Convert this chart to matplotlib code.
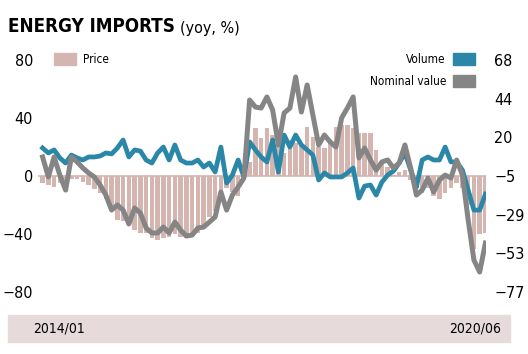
import numpy as np
import pandas as pd
import matplotlib
matplotlib.use("Agg")
import matplotlib.pyplot as plt
from matplotlib import font_manager
from matplotlib.patches import Patch, Rectangle

# monthly data, 2014/01 .. 2020/06 (yoy, %)
months = pd.date_range("2014-01-01", "2020-06-01", freq="MS")

# Price (bars, left axis)
price = [-4.8, -6.5, -7.6, -4.8, -4, -2, -2, -4, -6, -9,
         -12, -16, -23, -30, -31, -30, -37, -39, -39, -43,
         -44, -43, -42, -40, -42, -43, -42, -39, -35, -28,
         -24, -12, -8, -11, -14, 4, 10, 33, 26, 33,
         28, 22, 16, 25, 23, 22, 34, 27, 20, 19,
         23, 34, 35, 35, 33, 30, 30, 30, 18, 9,
         6, 1, 3, 4, -3, -8, -12, -8, -14, -16,
         -12, -8, -5, -8, -20, -50, -40, -39]

# Volume (blue line, right axis)
volume = [13, 9.9, 11.8, 6.8, 3.6, 8.6, 6.8, 5.5, 7.4, 7.4,
          8, 9.9, 9.3, 13, 18, 7.4, 11.8, 11.1, 5.5, 3.6,
          9.9, 13.6, 5.5, 14.9, 5.5, 3.6, 3.6, 5.5, 1.1, 3.6,
          -2, 13.6, -8.9, -3.9, 5.5, -5.1, 16.8, 11.8, 7.4, 4.3,
          18, -2, 21.1, 13.6, 21.1, 14.9, 11.8, 8.6, -7, -2.6,
          -5.1, -5.1, -5.1, -2.6, 0.5, -18.3, -10.8, -10.1, -16.4, -8.3,
          -3.9, -1.4, 3.6, 9.9, -0.8, -11.4, 5.5, 7.4, 5.5, 5.5,
          13.6, 4.3, 4.3, -0.8, -13.3, -25.8, -25.8, -15.8]

# Nominal value (grey line, right axis)
nominal = [7.4, -5.1, 7.4, -3.9, -13.3, 7.4, 4.3, 0.5, -2.6, -5.1,
           -10.1, -16.4, -25.8, -22.6, -25.8, -34.5, -24.5, -27.6, -37, -40.1,
           -40.1, -36.4, -40.1, -33.3, -38.3, -42, -41.4, -37, -36.4, -33.3,
           -30.1, -14.5, -25.8, -16.4, -11.4, -5.8, 43, 38.6, 38, 44.9,
           36.8, 14.9, 34.9, 38, 57.4, 35.5, 52.4, 33.6, 14.9, 21.1,
           16.8, 13.6, 31.8, 38, 44.9, 6.8, 13, 5.5, -0.8, 4.3,
           5.5, 0.5, 3.6, 14.9, 0.5, -16.4, -13.3, -5.8, -14.5, -7,
           -3.9, -5.8, 5.5, -3.9, -32, -57, -64.5, -46.4]

left_ticks = [80, 40, 0, -40, -80]
left_labels = ["80", "40", "0", "\u221240", "\u221280"]
right_labels = ["68", "44", "20", "\u22125", "\u221229", "\u221253", "\u221277"]

bar_color = "#d4b5b0"
blue = "#2b87a8"
grey = "#858585"
band_color = "#e6dada"

# look for a narrow / condensed face, otherwise shrink DejaVu a bit
narrow = None
for f in font_manager.fontManager.ttflist:
    if "Narrow" in f.name or "Condensed" in f.name or f.stretch in ("condensed", "semi-condensed"):
        narrow = f
        break
if narrow is not None:
    plt.rcParams["font.family"] = [narrow.name, "DejaVu Sans"]
    plt.rcParams["font.stretch"] = narrow.stretch
    k = 1.0
else:
    plt.rcParams["font.family"] = ["DejaVu Sans"]
    k = 0.85

W, H = 528, 354
fig = plt.figure(figsize=(W / 100, H / 100), dpi=100)
ax = fig.add_axes([38 / W, 1 - 292 / H, (486 - 38) / W, (292 - 60) / H])
ax2 = ax.twinx()

x = np.arange(len(months))
ax.bar(x, price, width=0.8, color=bar_color, zorder=1)
ax.axhline(0, color=bar_color, lw=1.2, zorder=0)
ax2.plot(x, volume, color=blue, lw=3.4, zorder=2)
ax2.plot(x, nominal, color=grey, lw=3.6, zorder=3)

ax.set_xlim(-0.8, len(months) - 0.9)
ax.set_ylim(-80, 80)
ax2.set_ylim(-77, 68)
ax.set_yticks(left_ticks)
ax.set_yticklabels(left_labels, fontsize=11.5 * k)
ax2.set_yticks(np.linspace(68, -77, len(right_labels)))
ax2.set_yticklabels(right_labels, fontsize=11.5 * k)
ax.set_xticks([])
ax.tick_params(axis="y", length=0, pad=3.6)
ax2.tick_params(axis="y", length=0, pad=5.8)
for a in (ax, ax2):
    for s in a.spines.values():
        s.set_visible(False)
    a.patch.set_visible(False)

# legends (handle sizes in font units, about 22 x 13 px)
lfs = 8.5 * k
px = lfs * 100 / 72
ax.legend([Patch(color=bar_color)], ["Price"], loc="upper left",
          bbox_to_anchor=(54 / W, 1 - 53 / H), bbox_transform=fig.transFigure,
          frameon=False, borderpad=0, borderaxespad=0, fontsize=lfs,
          handlelength=22 / px, handleheight=13 / px, handletextpad=7 / px)
ax2.legend([Patch(color=blue), Patch(color=grey)], ["Volume", "Nominal value"],
           loc="upper right", bbox_to_anchor=(475 / W, 1 - 53 / H),
           bbox_transform=fig.transFigure, frameon=False, borderpad=0,
           borderaxespad=0, fontsize=lfs, markerfirst=False,
           labelspacing=9 / px, handlelength=22 / px, handleheight=13 / px,
           handletextpad=7 / px)

# title
t = fig.text(8 / W, 1 - 32 / H, "ENERGY IMPORTS", fontsize=13.5 * k, weight="heavy",
             va="baseline", ha="left")
plt.annotate("(yoy, %)", xy=(1, 0), xycoords=t, xytext=(4, 0),
             textcoords="offset points", fontsize=11.5 * k, va="bottom", ha="left")

# bottom date band
fig.add_artist(Rectangle((8 / W, 1 - 342 / H), (510 - 8) / W, 27 / H,
                         transform=fig.transFigure, color=band_color, zorder=0))
fig.text(33 / W, 1 - 329 / H, months[0].strftime("%Y/%m"), fontsize=10 * k,
         va="center", ha="left")
fig.text(501 / W, 1 - 329 / H, months[-1].strftime("%Y/%m"), fontsize=10 * k,
         va="center", ha="right")

fig.savefig("out.png", dpi=100)
